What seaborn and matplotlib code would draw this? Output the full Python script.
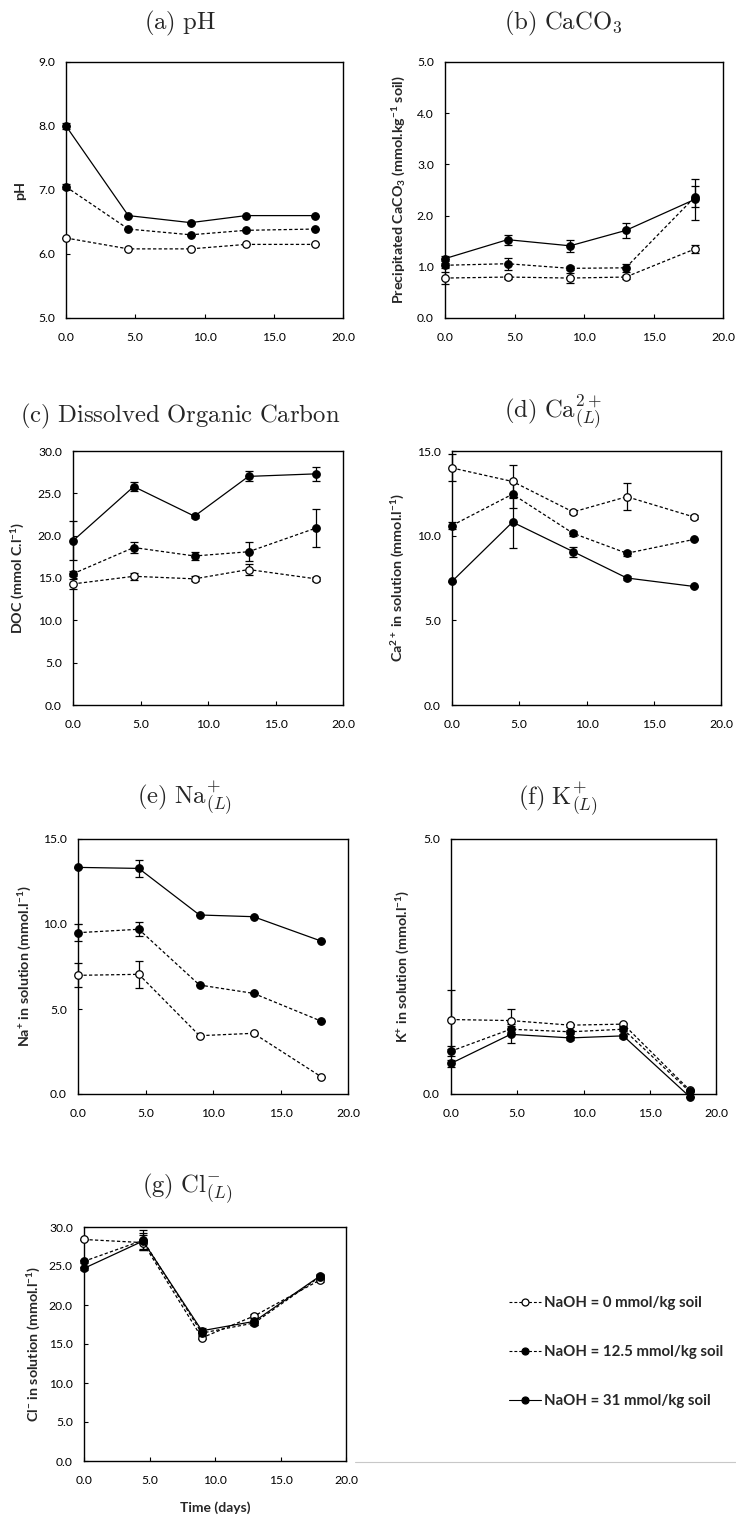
import numpy as np
import pandas as pd
import matplotlib
matplotlib.use("Agg")
import matplotlib.pyplot as plt
import seaborn as sns
from matplotlib.lines import Line2D
from matplotlib.ticker import MultipleLocator, FormatStrFormatter

# Sampling times (days)
days = [0.0, 4.5, 9.0, 13.0, 18.0]
treatments = ["NaOH = 0 mmol/kg soil", "NaOH = 12.5 mmol/kg soil", "NaOH = 31 mmol/kg soil"]

# (a) pH
ph_0 = [6.25, 6.08, 6.08, 6.15, 6.15]
ph_12 = [7.05, 6.39, 6.30, 6.37, 6.39]
ph_31 = [8.00, 6.60, 6.49, 6.60, 6.60]
ph_0_err = [0.0, 0.0, 0.0, 0.0, 0.0]
ph_12_err = [0.04, 0.0, 0.0, 0.0, 0.0]
ph_31_err = [0.04, 0.0, 0.0, 0.0, 0.0]

# (b) precipitated CaCO3
caco3_0 = [0.78, 0.80, 0.78, 0.80, 1.35]
caco3_12 = [1.03, 1.06, 0.97, 0.98, 2.37]
caco3_31 = [1.16, 1.53, 1.41, 1.71, 2.32]
caco3_0_err = [0.12, 0.03, 0.10, 0.04, 0.08]
caco3_12_err = [0.05, 0.12, 0.04, 0.08, 0.20]
caco3_31_err = [0.05, 0.10, 0.12, 0.15, 0.40]

# (c) dissolved organic carbon
doc_0 = [14.3, 15.2, 14.9, 16.0, 14.9]
doc_12 = [15.5, 18.6, 17.6, 18.1, 20.9]
doc_31 = [19.4, 25.8, 22.3, 27.0, 27.3]
doc_0_err = [0.6, 0.4, 0.3, 0.6, 0.2]
doc_12_err = [0.3, 0.6, 0.5, 1.1, 2.2]
doc_31_err = [2.3, 0.5, 0.2, 0.6, 0.8]

# (d) Ca2+ in solution
ca_0 = [14.0, 13.2, 11.4, 12.3, 11.1]
ca_12 = [10.6, 12.45, 10.14, 8.96, 9.78]
ca_31 = [7.3, 10.8, 9.06, 7.5, 7.0]
ca_0_err = [0.8, 1.0, 0.1, 0.8, 0.1]
ca_12_err = [0.2, 0.8, 0.15, 0.15, 0.05]
ca_31_err = [0.05, 1.5, 0.3, 0.1, 0.05]

# (e) Na+ in solution
na_0 = [6.98, 7.04, 3.43, 3.57, 1.02]
na_12 = [9.49, 9.69, 6.41, 5.92, 4.29]
na_31 = [13.33, 13.27, 10.53, 10.43, 9.00]
na_0_err = [0.7, 0.8, 0.0, 0.0, 0.0]
na_12_err = [0.5, 0.4, 0.0, 0.0, 0.0]
na_31_err = [0.05, 0.5, 0.0, 0.0, 0.0]

# (f) K+ in solution
k_0 = [1.46, 1.44, 1.35, 1.37, 0.08]
k_12 = [0.84, 1.27, 1.22, 1.27, 0.05]
k_31 = [0.60, 1.17, 1.10, 1.14, -0.05]
k_0_err = [0.58, 0.22, 0.03, 0.03, 0.0]
k_12_err = [0.10, 0.10, 0.04, 0.04, 0.0]
k_31_err = [0.07, 0.17, 0.04, 0.04, 0.0]

# (g) Cl- in solution
cl_0 = [28.4, 28.0, 15.8, 18.6, 23.2]
cl_12 = [25.6, 28.3, 16.4, 17.7, 23.6]
cl_31 = [24.7, 28.2, 16.7, 17.9, 23.7]
cl_0_err = [0.1, 1.0, 0.2, 0.2, 0.3]
cl_12_err = [0.2, 1.3, 0.3, 0.3, 0.3]
cl_31_err = [0.2, 1.0, 0.3, 0.4, 0.3]

sns.set_theme(style="ticks")
plt.rcParams["font.family"] = ["Lato", "DejaVu Sans"]
plt.rcParams.update({
    "mathtext.fontset": "custom",
    "mathtext.rm": "Lato:bold",
    "mathtext.it": "Lato:bold:italic",
    "mathtext.bf": "Lato:bold",
    "mathtext.sf": "Lato:bold",
    "axes.linewidth": 1.0,
    "axes.edgecolor": "black",
})

W, H = 736, 1517
fig = plt.figure(figsize=(W / 100, H / 100), dpi=100)


def rect(l, t, r, b):
    return [l / W, 1 - b / H, (r - l) / W, (b - t) / H]


styles = [
    dict(ls=(0, (2.6, 1.8)), fc="white"),
    dict(ls=(0, (2.6, 1.8)), fc="black"),
    dict(ls="-", fc="black"),
]

panels = [
    dict(box=(66, 62, 343, 318), data=(ph_0, ph_12, ph_31), err=(ph_0_err, ph_12_err, ph_31_err),
         ylim=(5, 9), step=1, title=r"$\mathrm{(a)\ pH}$", txy=(180, 29),
         ylabel="pH", ylx=20),
    dict(box=(445, 62, 723, 318), data=(caco3_0, caco3_12, caco3_31),
         err=(caco3_0_err, caco3_12_err, caco3_31_err),
         ylim=(0, 5), step=1, title=r"$\mathrm{(b)\ CaCO_3}$", txy=(563, 29),
         ylabel=r"Precipitated CaCO$_3$ (mmol.kg$^{-1}$ soil)", ylx=399),
    dict(box=(73, 451, 343, 705), data=(doc_0, doc_12, doc_31), err=(doc_0_err, doc_12_err, doc_31_err),
         ylim=(0, 30), step=5, title=r"$\mathrm{(c)\ Dissolved\ Organic\ Carbon}$", txy=(180, 422),
         ylabel=r"DOC (mmol C.l$^{-1}$)", ylx=18),
    dict(box=(452, 451, 721, 705), data=(ca_0, ca_12, ca_31), err=(ca_0_err, ca_12_err, ca_31_err),
         ylim=(0, 15), step=5, title=r"$\mathrm{(d)\ Ca}^{2+}_{(L)}$", txy=(553, 418),
         ylabel=r"Ca$^{2+}$ in solution (mmol.l$^{-1}$)", ylx=398),
    dict(box=(78, 839, 348, 1094), data=(na_0, na_12, na_31), err=(na_0_err, na_12_err, na_31_err),
         ylim=(0, 15), step=5, title=r"$\mathrm{(e)\ Na}^{+}_{(L)}$", txy=(185, 804),
         ylabel=r"Na$^{+}$ in solution (mmol.l$^{-1}$)", ylx=25),
    dict(box=(451, 839, 716, 1094), data=(k_0, k_12, k_31), err=(k_0_err, k_12_err, k_31_err),
         ylim=(0, 5), step=5, title=r"$\mathrm{(f)\ K}^{+}_{(L)}$", txy=(558, 805),
         ylabel=r"K$^{+}$ in solution (mmol.l$^{-1}$)", ylx=403),
    dict(box=(84, 1227, 346, 1461), data=(cl_0, cl_12, cl_31), err=(cl_0_err, cl_12_err, cl_31_err),
         ylim=(0, 30), step=5, title=r"$\mathrm{(g)\ Cl}^{-}_{(L)}$", txy=(187, 1193),
         ylabel=r"Cl$^{-}$ in solution (mmol.l$^{-1}$)", ylx=34),
]

for p in panels:
    ax = fig.add_axes(rect(*p["box"]))
    for vals, err, st in zip(p["data"], p["err"], styles):
        df = pd.DataFrame({"Time": days, "value": vals})
        ax.errorbar(days, vals, yerr=err, fmt="none", ecolor="black",
                    elinewidth=0.9, capsize=2.6, capthick=0.9, zorder=2, clip_on=False)
        sns.lineplot(data=df, x="Time", y="value", ax=ax, color="black",
                     linewidth=0.9, linestyle=st["ls"], marker="o", markersize=5.4,
                     markerfacecolor=st["fc"], markeredgecolor="black",
                     markeredgewidth=0.9, zorder=3, clip_on=False)
    ax.set_xlim(0, 20)
    ax.set_ylim(*p["ylim"])
    ax.xaxis.set_major_locator(MultipleLocator(5))
    ax.yaxis.set_major_locator(MultipleLocator(p["step"]))
    ax.xaxis.set_major_formatter(FormatStrFormatter("%.1f"))
    ax.yaxis.set_major_formatter(FormatStrFormatter("%.1f"))
    ax.tick_params(axis="x", direction="in", length=3, width=0.8, labelsize=8.7, pad=10,
                   colors="black")
    ax.tick_params(axis="y", direction="in", length=3, width=0.8, labelsize=8.7, pad=8,
                   colors="black")
    ax.set_xlabel("")
    ax.set_ylabel("")
    for s in ax.spines.values():
        s.set_visible(True)
        s.set_color("black")
        s.set_linewidth(1.0)
    l, t, r, b = p["box"]
    fig.text(p["ylx"] / W, 1 - (t + b) / 2 / H, p["ylabel"], rotation=90,
             ha="center", va="center", fontsize=10.3, fontweight="bold")
    fig.text(p["txy"][0] / W, 1 - p["txy"][1] / H, p["title"], ha="center",
             va="baseline", fontsize=17.8, math_fontfamily="cm")

# shared time axis label under the last panel
fig.text(215 / W, 1 - 1508 / H, "Time (days)", ha="center", va="center",
         fontsize=10, fontweight="bold")

handles = [
    Line2D([], [], color="black", lw=0.8, linestyle=st["ls"], marker="o", markersize=5,
           markerfacecolor=st["fc"], markeredgecolor="black", markeredgewidth=0.9)
    for st in styles
]
fig.legend(handles, treatments, loc="center left",
           bbox_to_anchor=(509 / W, 1 - 1352 / H), frameon=False,
           prop=dict(weight="bold", size=10.8), handlelength=2.1, handletextpad=0.25,
           labelspacing=2.35, borderpad=0, borderaxespad=0)

fig.add_artist(Line2D([355 / W, 1.0], [1 - 1462 / H, 1 - 1462 / H], color="#c8c8c8",
                      lw=0.8, transform=fig.transFigure))

fig.savefig("out.png", dpi=100)
